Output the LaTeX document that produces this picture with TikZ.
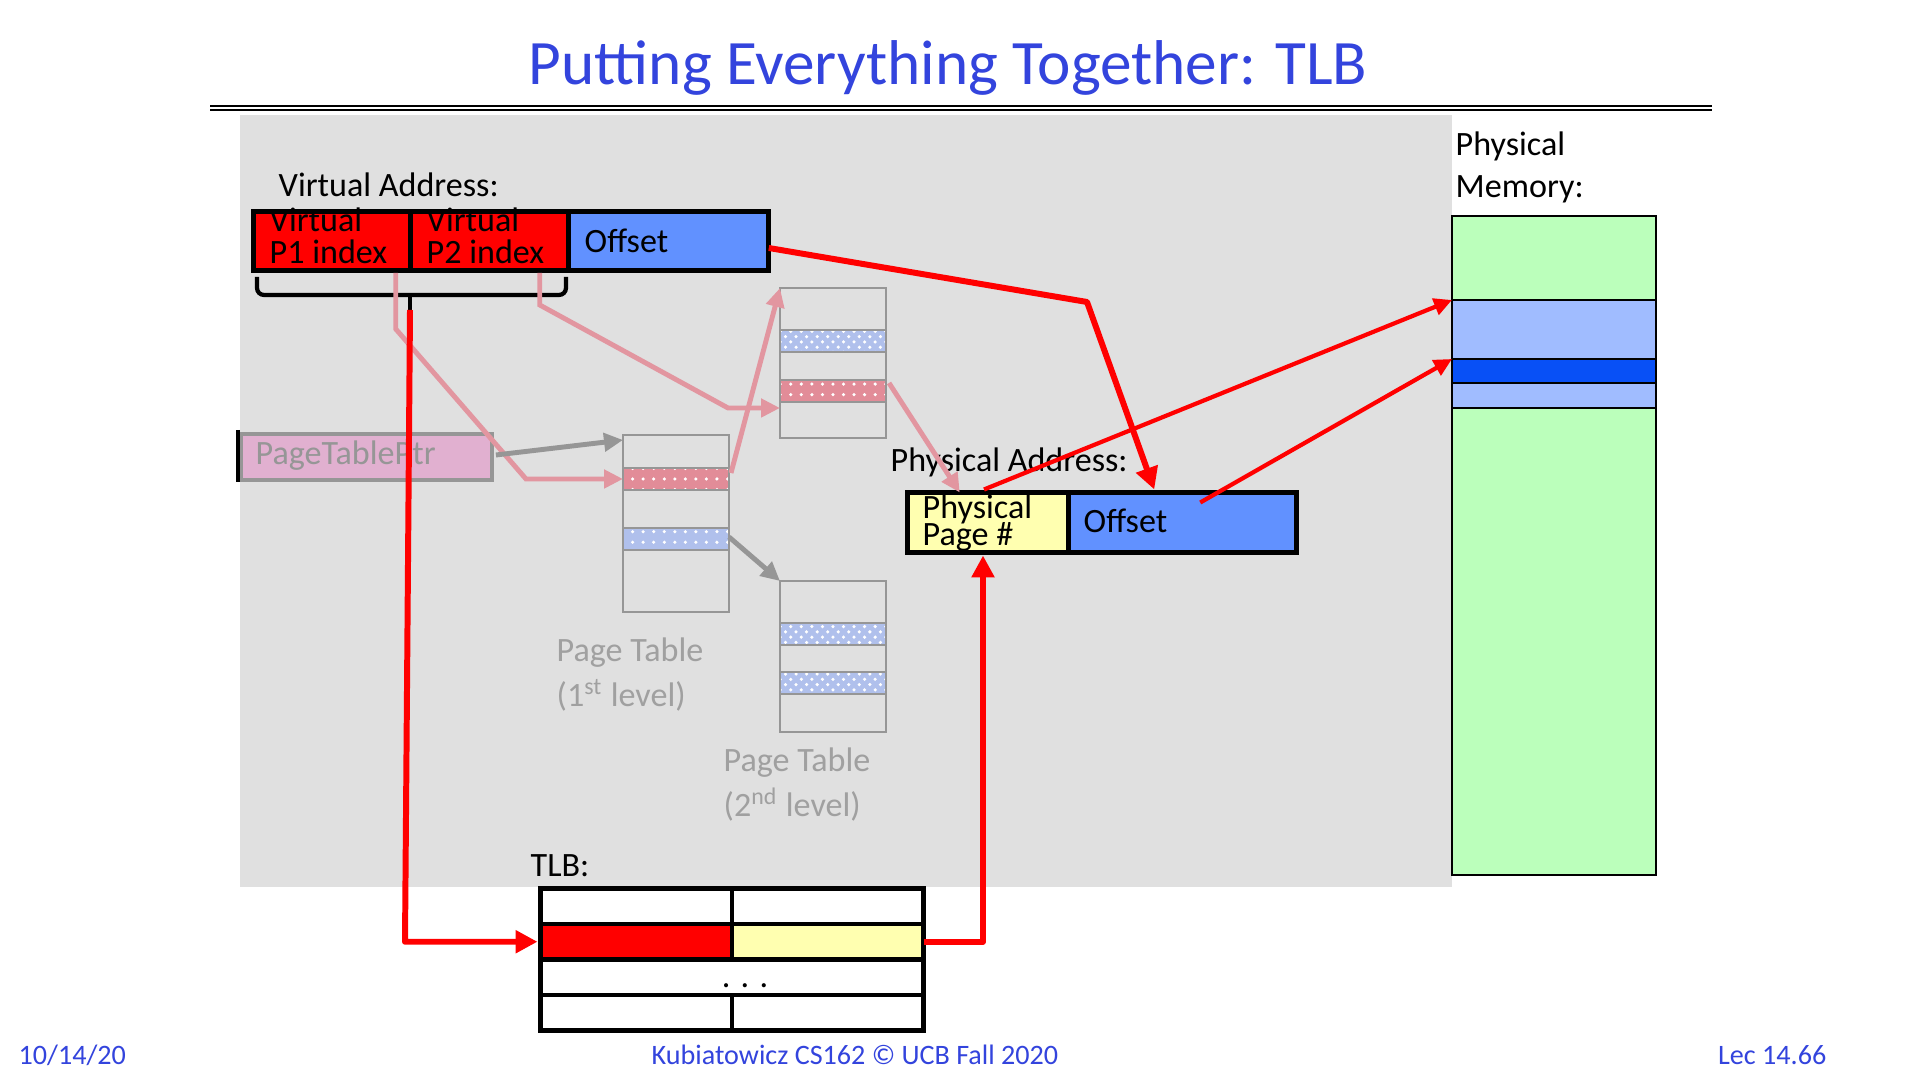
\documentclass[tikz,border=0pt]{standalone}
\usepackage{fontspec}
\setmainfont{Carlito}
\usetikzlibrary{arrows.meta,calc,positioning,patterns}
\definecolor{slideblue}{RGB}{51,68,221}
\definecolor{bgc}{RGB}{224,224,224}
\definecolor{vred}{RGB}{255,0,0}
\definecolor{offblue}{RGB}{97,145,255}
\definecolor{ppyel}{RGB}{255,255,176}
\definecolor{memgreen}{RGB}{187,255,187}
\definecolor{memlight}{RGB}{160,188,255}
\definecolor{memdark}{RGB}{8,80,246}
\definecolor{pinkln}{RGB}{226,150,160}
\definecolor{pinkrow}{RGB}{226,140,152}
\definecolor{bluerow}{RGB}{176,192,236}
\definecolor{ptgray}{RGB}{150,150,150}
\definecolor{pttxt}{RGB}{160,160,160}
\definecolor{ptpfill}{RGB}{225,176,208}
\tikzset{
  lab/.style={font=\fontsize{9.7}{11}\selectfont,text=black,inner sep=0pt,anchor=base west},
  foot/.style={font=\fontsize{8}{9.6}\selectfont,text=slideblue,inner sep=0pt},
  cell/.style={minimum height=0.59cm,inner sep=0pt,outer sep=0pt},
  box/.style={draw=black,line width=1.4pt},
  tcell/.style={cell,box,minimum width=1.915cm,minimum height=0.355cm},
  mem/.style={draw=black,line width=0.7pt,minimum width=2.04cm,inner sep=0pt,outer sep=0pt},
  ptbox/.style={draw=ptgray,line width=0.6pt,minimum width=1.06cm,inner sep=0pt,outer sep=0pt,anchor=north west},
  ptrow/.style={ptbox,minimum height=0.22cm,pattern color=white},
  redarr/.style={draw=vred,line width=1.7pt,line join=round,-{Triangle[length=0.22cm,width=0.22cm]}},
  memarr/.style={draw=vred,line width=1.2pt,-{Triangle[length=0.18cm,width=0.17cm]}},
  pinkarr/.style={draw=pinkln,line width=1.4pt,-{Triangle[length=0.19cm,width=0.18cm]}},
  grayarr/.style={draw=ptgray,line width=1.4pt,-{Triangle[length=0.19cm,width=0.18cm]}},
}
% page table: name, x, top, height, rows as top/colour/pattern
\newcommand{\ptab}[5]{%
  \node[ptbox,minimum height=#4cm] (#1) at (#2,#3) {};
  \foreach \yr/\rc/\rp [count=\k] in {#5}{%
    \node[ptrow,preaction={fill=\rc},pattern=\rp] (#1-\k) at (#2,\yr) {};
  }}

\begin{document}
\begin{tikzpicture}[x=1cm,y=1cm]
\useasboundingbox (0,0) rectangle (19.2,10.8);
\fill[white] (0,0) rectangle (19.2,10.8);
\fill[bgc] (2.40,1.93) rectangle (14.52,9.65);

% ---- title and footer ----
\node[font=\fontsize{18}{21}\selectfont,text=slideblue,anchor=base,inner sep=0pt] (title) at (9.48,9.95) {Putting Everything Together: TLB};
\draw[line width=0.75pt] (2.10,9.74) -- (17.12,9.74);
\draw[line width=0.42pt] (2.10,9.70) -- (17.12,9.70);
\node[foot,anchor=base west] (date) at (0.18,0.15) {10/14/20};
\node[foot,anchor=base] (course) at (8.55,0.15) {Kubiatowicz CS162 © UCB Fall 2020};
\node[foot,anchor=base east] (lec) at (18.27,0.15) {Lec 14.66};

% ---- virtual address ----
\node[lab] (valab) at (2.78,8.83) {Virtual Address:};
\node[cell,fill=vred,minimum width=1.575cm] (va1) at (3.32,8.39) {};
\node[cell,fill=vred,minimum width=1.58cm,right=0pt of va1] (va2) {};
\node[cell,fill=offblue,minimum width=2.0cm,right=0pt of va2] (va3) {};
\node[lab] (va1a) at (2.69,8.48) {Virtual};
\node[lab] (va1b) at (2.69,8.16) {P1 index};
\node[lab] (va2a) at (4.26,8.48) {Virtual};
\node[lab] (va2b) at (4.26,8.16) {P2 index};
\node[lab] (va3t) at (5.84,8.27) {Offset};
\draw[box] (va1.south west) rectangle (va3.north east);
\draw[box] (va1.north east) -- (va1.south east);
\draw[box] (va2.north east) -- (va2.south east);
% bracket under the two indices
\draw[line width=1.2pt,rounded corners=2pt] (2.57,8.03) -- (2.57,7.85) -- (5.66,7.85) -- (5.66,8.03);
\draw[line width=1.2pt] (4.10,7.85) -- (4.10,7.70);
\coordinate (brk) at (4.10,7.70);

% ---- page table pointer and tables ----
\node[draw=ptgray,line width=1.1pt,fill=ptpfill,minimum width=2.51cm,minimum height=0.46cm,inner sep=0pt] (ptp) at (3.665,6.23) {};
\node[lab,text=ptgray] (ptpt) at (2.55,6.15) {PageTablePtr};
\draw[line width=0.9pt] (2.38,6.50) -- (2.38,5.98);

\ptab{pt1}{6.23}{6.45}{1.77}{6.12/pinkrow/dots, 5.52/bluerow/dots}
\ptab{pt2}{7.80}{7.92}{1.50}{7.50/bluerow/crosshatch dots, 7.00/pinkrow/dots}
\ptab{pt3}{7.80}{4.99}{1.51}{4.57/bluerow/crosshatch dots, 4.08/bluerow/crosshatch dots}
\node[lab,text=pttxt] (pt1a) at (5.56,4.18) {Page Table};
\node[lab,text=pttxt] (pt1b) at (5.56,3.73) {(1\textsuperscript{st} level)};
\node[lab,text=pttxt] (pt3a) at (7.23,3.08) {Page Table};
\node[lab,text=pttxt] (pt3b) at (7.23,2.63) {(2\textsuperscript{nd} level)};

% ---- physical address ----
\node[lab] (palab) at (8.90,6.08) {Physical Address:};
\node[cell,fill=ppyel,minimum width=1.605cm,minimum height=0.60cm] (pa1) at (9.88,5.575) {};
\node[cell,fill=offblue,minimum width=2.285cm,minimum height=0.60cm,right=0pt of pa1] (pa2) {};
\node[lab] (pa1a) at (9.22,5.61) {Physical};
\node[lab] (pa1b) at (9.22,5.34) {Page \#};
\node[lab] (pa2t) at (10.83,5.47) {Offset};
\draw[box] (pa1.south west) rectangle (pa2.north east);
\draw[box] (pa1.north east) -- (pa1.south east);

% ---- physical memory ----
\node[lab] (mlab1) at (14.55,9.24) {Physical};
\node[lab] (mlab2) at (14.55,8.82) {Memory:};
\node[mem,fill=memgreen,minimum height=0.84cm,anchor=north west] (m1) at (14.52,8.64) {};
\node[mem,fill=memlight,minimum height=0.59cm,below=0pt of m1] (m2) {};
\node[mem,fill=memdark,minimum height=0.24cm,below=0pt of m2] (m3) {};
\node[mem,fill=memlight,minimum height=0.25cm,below=0pt of m3] (m4) {};
\node[mem,fill=memgreen,minimum height=4.67cm,below=0pt of m4] (m5) {};

% ---- TLB ----
\node[lab] (tlblab) at (5.30,2.03) {TLB:};
\node[tcell,fill=white] (t11) at (6.3625,1.7375) {};
\node[tcell,fill=white,right=0pt of t11] (t12) {};
\node[tcell,fill=vred,below=0pt of t11] (t21) {};
\node[tcell,fill=ppyel,right=0pt of t21] (t22) {};
\node[tcell,fill=white,minimum width=3.83cm,anchor=north west] (t3) at (t21.south west) {};
\node[tcell,fill=white,anchor=north west] (t41) at (t3.south west) {};
\node[tcell,fill=white,right=0pt of t41] (t42) {};
\node[lab,anchor=base] (tdots) at (7.45,0.92) {. . .};

% ---- walk through the tables ----
\draw[pinkarr] ($(va1.south east)+(-0.15,-0.025)$) -- ++(0,-0.56) -- (5.26,6.01) -- (pt1-1.west);
\draw[pinkarr] ($(va2.south east)+(-0.29,-0.025)$) -- ++(0,-0.32) -- (7.28,6.72) -- ($(pt2.west)+(0,-0.45)$);
\draw[pinkarr] ($(pt1-1.east)+(0.02,0.06)$) -- (pt2.north west);
\draw[pinkarr] ($(pt2-2.east)+(0.03,0.08)$) -- ($(pa1.north west)+(0.52,0)$);
\draw[grayarr] ($(ptp.east)+(0.02,0.02)$) -- ($(pt1.north west)+(0,-0.05)$);
\draw[grayarr] ($(pt1-2.east)+(0,0.02)$) -- (pt3.north west);

% ---- TLB path ----
\draw[redarr] (brk) -- (4.05,1.3825) -- ($(t21.west)+(-0.03,0)$);
\draw[redarr] (t22.east) -| ($(pa1.south)+(-0.05,-0.03)$);
\draw[redarr] ($(va3.east)+(0,-0.07)$) -- (10.87,7.78) -- ($(pa2.north west)+(0.86,0.03)$);
\draw[memarr] ($(pa1.north)+(-0.04,0.03)$) -- (m2.north west);
\draw[memarr] ($(pa2.west)+(1.32,0.20)$) -- (m3.north west);
\end{tikzpicture}
\end{document}
